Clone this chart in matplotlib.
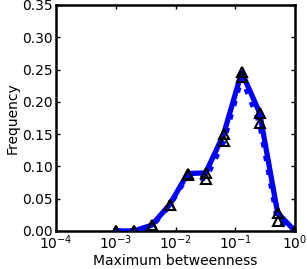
import matplotlib
matplotlib.use("Agg")
import matplotlib.pyplot as plt
from matplotlib.ticker import NullLocator

# bin centres (maximum betweenness, log-spaced)
bins = [0.001, 0.002, 0.004, 0.008, 0.016, 0.032, 0.064, 0.128, 0.256, 0.512, 1.0]
freq_solid = [0.0, 0.0, 0.009, 0.041, 0.089, 0.090, 0.150, 0.246, 0.183, 0.028, 0.0]
freq_dotted = [0.0, 0.0, 0.007, 0.040, 0.086, 0.081, 0.139, 0.238, 0.167, 0.016, 0.0]

fig = plt.figure(figsize=(3.07, 2.69), dpi=100)
ax = fig.add_axes([56 / 307, 1 - 231 / 269, 239 / 307, 226 / 269])

ax.plot(bins, freq_solid, "-", color="blue", lw=3.8, zorder=3)
ax.plot(bins, freq_dotted, ":", color="blue", lw=3.8, zorder=2)
ax.plot(bins, freq_solid, "^", mfc="none", mec="black", mew=1.5, ms=7, zorder=4)
ax.plot(bins, freq_dotted, "^", mfc="none", mec="black", mew=1.5, ms=7, zorder=4)

ax.set_xscale("log")
ax.set_xlim(1e-4, 1)
ax.set_ylim(0, 0.35)
ax.set_yticks([0, 0.05, 0.10, 0.15, 0.20, 0.25, 0.30, 0.35])
ax.set_yticklabels(["0.00", "0.05", "0.10", "0.15", "0.20", "0.25", "0.30", "0.35"])
ax.xaxis.set_minor_locator(NullLocator())
ax.tick_params(direction="in", top=True, right=True, length=3, width=1,
               labelsize=10, pad=2)
for s in ax.spines.values():
    s.set_linewidth(1.8)

ax.set_xlabel("Maximum betweenness", fontsize=10, labelpad=1)
ax.set_ylabel("Frequency", fontsize=10, labelpad=2)

fig.savefig("out.png", dpi=100)
